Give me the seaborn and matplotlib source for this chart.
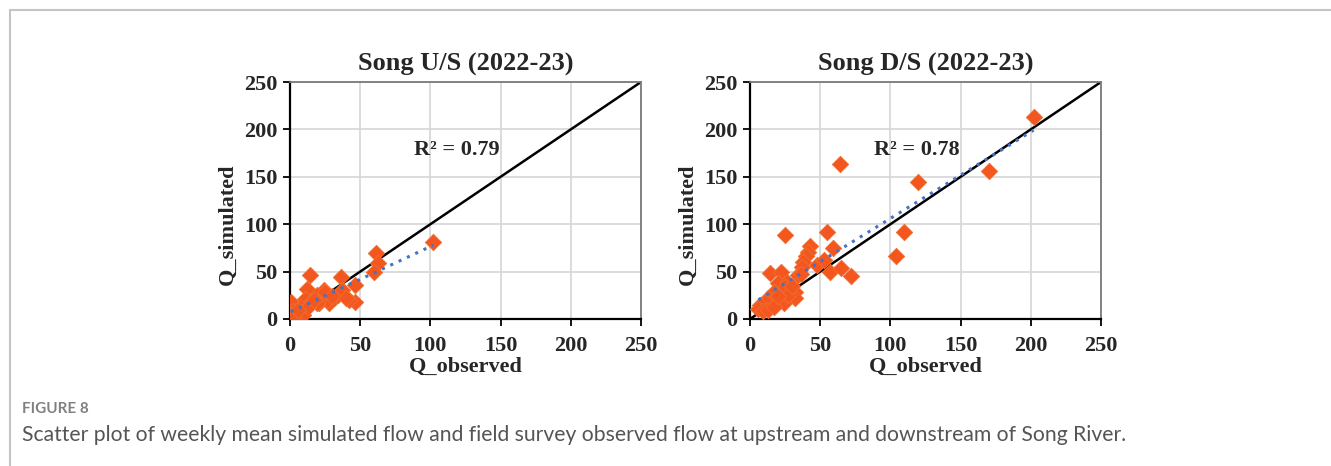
import numpy as np
import pandas as pd
import seaborn as sns
import matplotlib.pyplot as plt
from matplotlib.lines import Line2D

# Song U/S (2022-23)
obs_us = [102, 61, 63, 60, 14, 12, 36, 46, 46, 42, 24, 19, 11, 1, 31, 34, 28, 21, 15, 7,
          2, 0.5, 5, 9.5, 37, 40, 26, 19, 13, 3, 6, 17, 25, 30]
sim_us = [81, 70, 59, 50, 46, 32, 44, 36, 18, 20, 31, 25, 21, 18, 22, 25, 17, 17, 18, 13,
          8, 4, 6, 4, 31, 22, 20, 17, 13, 2, 10, 20, 28, 24]

# Song D/S (2022-23)
obs_ds = [202, 64, 120, 170, 110, 104, 25, 55, 59, 43, 41.5, 40, 38, 37, 47.5, 53, 57, 65, 72, 14,
          22, 34, 20, 26, 25, 32, 32, 24, 17, 13, 11, 7, 6, 9.5, 13, 17, 27, 20, 36, 30]
sim_ds = [213, 163, 145, 156, 92, 66, 89, 92, 75, 77, 71, 66, 60, 55, 57, 62, 50, 54, 45, 49,
          50, 46, 38, 39, 34, 29, 22, 17, 29, 22, 18, 15, 11, 8, 10, 13, 25, 24, 47, 35]

titles = ["Song U/S (2022-23)", "Song D/S (2022-23)"]
r2_labels = ["R\u00b2 = 0.79", "R\u00b2 = 0.78"]
ticks = [0, 50, 100, 150, 200, 250]

sns.set_style("white")
plt.rcParams["font.family"] = ["Liberation Serif", "DejaVu Serif"]

fig = plt.figure(figsize=(13.31, 4.66), dpi=100)

# light frame of the figure panel
fig.add_artist(Line2D([10 / 1331, 1], [1 - 10 / 466, 1 - 10 / 466], color="#c4c4c4", lw=1.5))
fig.add_artist(Line2D([10 / 1331, 10 / 1331], [0, 1 - 10 / 466], color="#c4c4c4", lw=1.5))

panels = [(obs_us, sim_us), (obs_ds, sim_ds)]
lefts = [290 / 1331, 750 / 1331]
for i, (obs, sim) in enumerate(panels):
    df = pd.DataFrame({"Q_observed": obs, "Q_simulated": sim})
    ax = fig.add_axes([lefts[i], 147 / 466, 351 / 1331, 237 / 466])
    ax.plot([0, 250], [0, 250], color="black", lw=1.8, zorder=2)
    sns.scatterplot(data=df, x="Q_observed", y="Q_simulated", marker="D", s=70,
                    color="#f4561f", edgecolor="#f07030", linewidth=0.6, ax=ax, zorder=3)
    sns.regplot(data=df, x="Q_observed", y="Q_simulated", scatter=False, ci=None, ax=ax,
                line_kws=dict(color="#4472c4", ls=(0, (1, 2)), lw=2.2, zorder=4))
    ax.set_xlim(0, 250)
    ax.set_ylim(0, 250)
    ax.set_xticks(ticks)
    ax.set_yticks(ticks)
    ax.grid(True, color="#d9d9d9", lw=1.3)
    ax.set_axisbelow(True)
    for s in ["top", "right"]:
        ax.spines[s].set_color("#7a7a7a")
        ax.spines[s].set_linewidth(1.3)
    for s in ["left", "bottom"]:
        ax.spines[s].set_color("black")
        ax.spines[s].set_linewidth(1.6)
    ax.tick_params(axis="both", direction="out", length=5, width=1.3, color="black",
                   labelsize=16, pad=4, bottom=True, left=True)
    ax.tick_params(axis="x", pad=7)
    for lab in ax.get_xticklabels() + ax.get_yticklabels():
        lab.set_fontweight("bold")
    ax.set_title(titles[i], fontsize=19, fontweight="bold", pad=8)
    ax.set_xlabel("Q_observed", fontsize=16, fontweight="bold", labelpad=1)
    ax.set_ylabel("Q_simulated", fontsize=16, fontweight="bold")
    ax.yaxis.set_label_coords(-0.15, 0.4)
    ax.text(119, 178, r2_labels[i], fontsize=16, fontweight="bold", ha="center", va="center")

fig.text(22 / 1331, 1 - 409 / 466, "FIGURE 8", fontsize=11, color="#808080", fontweight="bold",
         family=["Lato", "DejaVu Sans"], va="center")
fig.text(22 / 1331, 1 - 435 / 466,
         "Scatter plot of weekly mean simulated flow and field survey observed flow at upstream and downstream of Song River.",
         fontsize=15.2, color="#555555", family=["Lato", "DejaVu Sans"], va="center")

fig.savefig("out.png", dpi=100)
